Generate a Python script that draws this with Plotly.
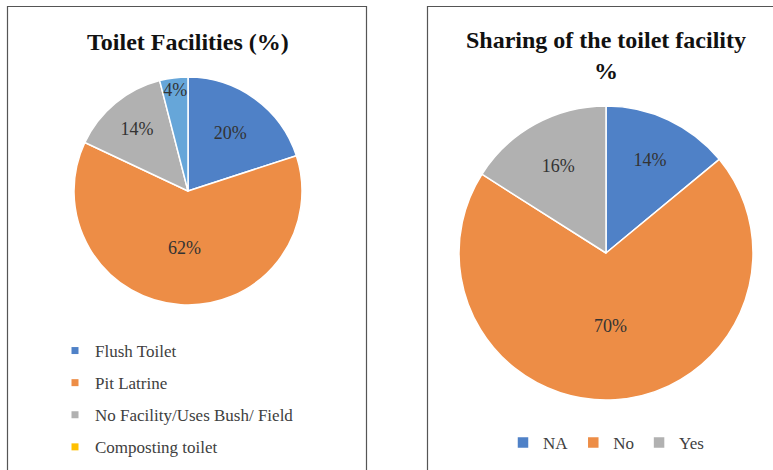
import plotly.graph_objects as go

W, H = 773, 470

# ---- data ----
fac_labels = ["Flush Toilet", "Pit Latrine", "No Facility/Uses Bush/ Field", "Composting toilet"]
fac_values = [20, 62, 14, 4]
share_labels = ["NA", "No", "Yes"]
share_values = [14, 70, 16]

# ---- styles ----
BLUE, ORANGE, GRAY, LBLUE, YELLOW = "#4F81C7", "#ED8D46", "#B1B1B1", "#66A6D9", "#FFC000"
fac_slice_colors = [BLUE, ORANGE, GRAY, LBLUE]
fac_legend_colors = [BLUE, ORANGE, GRAY, YELLOW]
share_colors = [BLUE, ORANGE, GRAY]

SERIF = "Liberation Serif"

def px(x):
    return x / W

def py(y):
    return 1 - y / H

fig = go.Figure()

fig.add_trace(go.Pie(
    labels=fac_labels, values=fac_values, sort=False, direction="clockwise", rotation=0,
    marker=dict(colors=fac_slice_colors, line=dict(color="white", width=1.5)),
    texttemplate="%{percent:.0%}", textposition="inside", insidetextorientation="horizontal",
    textfont=dict(family=SERIF, size=18, color="#333333"),
    domain=dict(x=[px(74), px(302)], y=[py(305), py(77)]),
    showlegend=False, hoverinfo="label+percent",
))

for lab, col in zip(fac_labels, fac_legend_colors):
    fig.add_trace(go.Scatter(
        x=[None], y=[None], mode="markers", name=lab, legend="legend",
        legendgroup=lab,
        marker=dict(symbol="square", size=7, color=col),
    ))

fig.add_trace(go.Pie(
    labels=share_labels, values=share_values, sort=False, direction="clockwise", rotation=0,
    marker=dict(colors=share_colors, line=dict(color="white", width=1.5)),
    texttemplate="%{percent:.0%}", textposition="inside", insidetextorientation="horizontal",
    textfont=dict(family=SERIF, size=18, color="#333333"),
    domain=dict(x=[px(459), px(753)], y=[py(400), py(106)]),
    legend="legend2", showlegend=True,
))

# panel borders
fig.add_shape(type="rect", xref="paper", yref="paper",
              x0=px(7.5), x1=px(366.5), y0=py(480), y1=py(6.5),
              line=dict(color="#555555", width=1.2))
fig.add_shape(type="rect", xref="paper", yref="paper",
              x0=px(427.5), x1=px(790), y0=py(480), y1=py(6.5),
              line=dict(color="#555555", width=1.2))

fig.add_annotation(x=px(188), y=py(42), xref="paper", yref="paper", showarrow=False,
                   xanchor="center", yanchor="middle",
                   text="<b>Toilet Facilities (%)</b>",
                   font=dict(family=SERIF, size=24, color="#111111"))
fig.add_annotation(x=px(606), y=py(55), xref="paper", yref="paper", showarrow=False,
                   xanchor="center", yanchor="middle",
                   text="<b>Sharing of the toilet facility<br>%</b>",
                   font=dict(family=SERIF, size=24, color="#111111"))

fig.update_layout(
    width=W, height=H, margin=dict(l=0, r=0, t=0, b=0),
    paper_bgcolor="white", plot_bgcolor="white",
    uniformtext=dict(minsize=18, mode="show"),
    xaxis=dict(visible=False), yaxis=dict(visible=False),
    legend=dict(x=px(55), y=py(333), xanchor="left", yanchor="top",
                orientation="v", tracegroupgap=7, traceorder="grouped",
                font=dict(family=SERIF, size=17, color="#404040"),
                bgcolor="rgba(0,0,0,0)"),
    legend2=dict(x=px(606), y=py(443), xanchor="center", yanchor="middle",
                 orientation="h",
                 font=dict(family=SERIF, size=17, color="#404040"),
                 bgcolor="rgba(0,0,0,0)"),
)

fig.write_html("out.html", config={"displayModeBar": False},
               post_script="document.body.style.margin='0';document.body.style.overflow='hidden';")
